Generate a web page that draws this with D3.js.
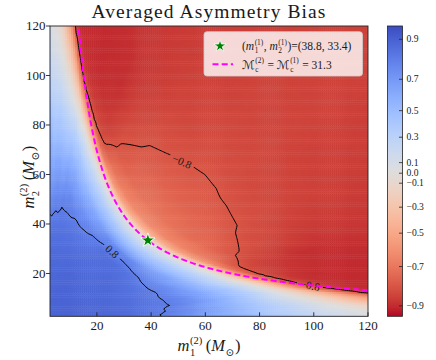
<!DOCTYPE html>
<html><head><meta charset="utf-8">
<script src="https://cdn.jsdelivr.net/npm/d3@7"></script>
<style>
body{margin:0;background:#fff}
text{font-family:"Liberation Serif","DejaVu Serif",serif;fill:#1a1a1a}
</style>
</head><body><svg id="c" width="436" height="360"></svg>
<script>
// ---------------- data ----------------
const massDomain = [2.7, 120];
const mcTarget = 31.3;                 // chirp mass of the reference event
const starPoint = [38.8, 33.4];        // (m1, m2) of the reference event
const xTicks = [20, 40, 60, 80, 100, 120];
const yTicks = [20, 40, 60, 80, 100, 120];
const cbTicks = [0.9, 0.7, 0.5, 0.3, 0.1, 0.0, -0.1, -0.3, -0.5, -0.7, -0.9];
// colour-norm of the colour bar (value -> fraction of bar height, from bottom)
const normValues    = [-0.953, -0.9, -0.7, -0.5, -0.3, -0.1, 0.0, 0.1, 0.3, 0.5, 0.7, 0.9, 0.9665];
const normFractions = [0, 0.0361, 0.1714, 0.2864, 0.3759, 0.4585, 0.4929, 0.5294, 0.6169, 0.7084, 0.8165, 0.9542, 1];
const contourLevels = [-0.8, 0.8];

// bias, tabulated against mass ratio q and Mc / Mc_ref (u)
const qGrid = [0.025, 0.0375, 0.05, 0.075, 0.1, 0.15, 0.2, 0.3, 0.4, 0.55, 0.7, 0.85, 1.0];
const uGrid = [0.08, 0.2, 0.3, 0.35, 0.4, 0.45, 0.5, 0.6, 0.7, 0.8, 0.9, 0.95, 1.0, 1.05, 1.1, 1.2, 1.4, 1.6, 1.8, 2.2, 2.8, 3.4];
const biasQ0250 = [0.9, 0.88, 0.8, 0.45, 0.12, -0.05, -0.15, -0.35, -0.55, -0.75, -0.88, -0.9, -0.9, -0.9, -0.9, -0.9, -0.9, -0.9, -0.9, -0.9, -0.9, -0.9];
const biasQ0375 = [0.9, 0.88, 0.75, 0.57, 0.32, 0.2, 0.08, -0.12, -0.35, -0.6, -0.85, -0.9, -0.9, -0.9, -0.9, -0.9, -0.9, -0.9, -0.9, -0.9, -0.9, -0.9];
const biasQ0500 = [0.9, 0.86, 0.72, 0.6, 0.48, 0.36, 0.25, 0.02, -0.25, -0.55, -0.82, -0.9, -0.9, -0.9, -0.9, -0.9, -0.9, -0.9, -0.9, -0.9, -0.9, -0.9];
const biasQ0750 = [0.9, 0.87, 0.79, 0.74, 0.68, 0.6, 0.5, 0.3, 0.02, -0.4, -0.75, -0.88, -0.9, -0.9, -0.9, -0.9, -0.9, -0.9, -0.9, -0.9, -0.9, -0.9];
const biasQ1000 = [0.89, 0.88, 0.84, 0.81, 0.77, 0.72, 0.65, 0.45, 0.22, -0.1, -0.6, -0.82, -0.9, -0.9, -0.9, -0.9, -0.9, -0.9, -0.9, -0.9, -0.9, -0.9];
const biasQ1500 = [0.89, 0.88, 0.86, 0.85, 0.83, 0.81, 0.78, 0.68, 0.5, 0.26, -0.2, -0.62, -0.84, -0.89, -0.9, -0.9, -0.9, -0.9, -0.9, -0.9, -0.9, -0.9];
const biasQ2000 = [0.89, 0.88, 0.87, 0.86, 0.85, 0.835, 0.815, 0.76, 0.63, 0.42, 0.08, -0.3, -0.7, -0.84, -0.88, -0.9, -0.9, -0.9, -0.9, -0.9, -0.9, -0.9];
const biasQ3000 = [0.89, 0.88, 0.88, 0.87, 0.865, 0.855, 0.845, 0.81, 0.72, 0.54, 0.26, 0.05, -0.4, -0.74, -0.82, -0.86, -0.89, -0.89, -0.88, -0.87, -0.87, -0.87];
const biasQ4000 = [0.89, 0.89, 0.88, 0.88, 0.875, 0.865, 0.855, 0.83, 0.77, 0.62, 0.34, 0.15, -0.15, -0.6, -0.72, -0.79, -0.83, -0.86, -0.87, -0.87, -0.87, -0.87];
const biasQ5500 = [0.89, 0.89, 0.885, 0.88, 0.88, 0.875, 0.87, 0.85, 0.81, 0.69, 0.4, 0.2, -0.05, -0.52, -0.66, -0.74, -0.79, -0.82, -0.84, -0.86, -0.86, -0.86];
const biasQ7000 = [0.89, 0.89, 0.885, 0.88, 0.88, 0.875, 0.87, 0.86, 0.84, 0.74, 0.42, 0.22, 0.0, -0.48, -0.64, -0.72, -0.77, -0.805, -0.83, -0.85, -0.86, -0.86];
const biasQ8500 = [0.89, 0.89, 0.885, 0.88, 0.88, 0.875, 0.87, 0.86, 0.85, 0.76, 0.42, 0.22, 0.0, -0.45, -0.63, -0.71, -0.76, -0.795, -0.82, -0.84, -0.85, -0.85];
const biasQ10000 = [0.89, 0.89, 0.885, 0.88, 0.88, 0.875, 0.87, 0.86, 0.85, 0.76, 0.42, 0.22, 0.0, -0.45, -0.63, -0.71, -0.76, -0.79, -0.82, -0.84, -0.85, -0.85];
const biasRows = [biasQ0250, biasQ0375, biasQ0500, biasQ0750, biasQ1000, biasQ1500, biasQ2000,
                  biasQ3000, biasQ4000, biasQ5500, biasQ7000, biasQ8500, biasQ10000];

// matplotlib "coolwarm" samples (33 stops)
const coolwarm = ["#3b4cc0","#445acc","#4d68d7","#5775e1","#6282ea","#6c8ef1","#779af7","#82a5fb","#8db0fe","#98b9ff","#a3c2ff","#aec9fd","#b8d0f9","#c2d5f4","#ccd9ee","#d5dbe6","#dddddd","#e5d8d1","#ecd3c5","#f1ccb8","#f5c4ac","#f7bb9f","#f7b193","#f7a686","#f49a7b","#f18d6f","#ec7f63","#e57058","#de604d","#d55042","#cb3e38","#c0282f","#b40426"];

// ---------------- helpers ----------------
function chirp(m1, m2) { return Math.pow(m1 * m2, 0.6) / Math.pow(m1 + m2, 0.2); }
function locate(grid, v) {
  if (v <= grid[0]) return [0, 0];
  if (v >= grid[grid.length - 1]) return [grid.length - 2, 1];
  const i = d3.bisectRight(grid, v) - 1;
  return [i, (v - grid[i]) / (grid[i + 1] - grid[i])];
}
function bias(m1, m2) {
  const ml = Math.max(m1, m2), ms = Math.min(m1, m2);
  const [qi, qt] = locate(qGrid, ms / ml);
  const [ui, ut] = locate(uGrid, chirp(m1, m2) / mcTarget);
  const r0 = biasRows[qi], r1 = biasRows[qi + 1];
  const a = r0[ui] * (1 - ut) + r0[ui + 1] * ut;
  const b = r1[ui] * (1 - ut) + r1[ui + 1] * ut;
  return a * (1 - qt) + b * qt;
}

// ---------------- scales ----------------
const L = 50, R = 368, T = 26, B = 316.3;
const x = d3.scaleLinear().domain(massDomain).range([L, R]);
const y = d3.scaleLinear().domain(massDomain).range([B, T]);
const norm = d3.scaleLinear().domain(normValues).range(normFractions).clamp(true);
const cw = d3.scaleLinear().domain(d3.range(coolwarm.length).map(i => i / (coolwarm.length - 1))).range(coolwarm).interpolate(d3.interpolateRgb);
const color = v => cw(1 - norm(v));

const svg = d3.select('#c');
const defs = svg.append('defs');
defs.append('clipPath').attr('id', 'clip').append('rect')
  .attr('x', L).attr('y', T).attr('width', R - L).attr('height', B - T);

// ---------------- heat map ----------------
const step = 0.75, g0 = 2.2;
const n = Math.ceil((121 - g0) / step);
const centers = d3.range(n).map(i => g0 + (i + 0.5) * step);
const values = new Array(n * n);
const cells = [];
for (let j = 0; j < n; j++) for (let i = 0; i < n; i++) {
  const v = bias(centers[i], centers[j]);
  values[i + j * n] = v;
  cells.push({ i, j, v });
}
const plot = svg.append('g').attr('clip-path', 'url(#clip)');
const cwid = x(g0 + step) - x(g0) + 0.45, chei = y(g0) - y(g0 + step) + 0.45;
plot.append('g').selectAll('rect').data(cells).join('rect')
  .attr('x', d => x(g0 + d.i * step)).attr('y', d => y(g0 + (d.j + 1) * step))
  .attr('width', cwid).attr('height', chei).attr('fill', d => color(d.v));

// ---------------- contours ----------------
const contours = d3.contours().size([n, n]).thresholds(contourLevels)(values);
const proj = d3.geoTransform({ point(px, py) { this.stream.point(x(g0 + px * step), y(g0 + py * step)); } });
const path = d3.geoPath(proj);

const labelSpecs = [
  { level: 0.8, text: '0.8', at: [24.9, 28.6] },
  { level: -0.8, text: '\u22120.8', at: [50, 61] },
  { level: -0.8, text: '\u22120.8', at: [98.7, 14.9] }
];
function placeLabel(spec) {
  const c = contours.find(c => c.value === spec.level);
  const tx = x(spec.at[0]), ty = y(spec.at[1]);
  let best = null;
  c.coordinates.forEach(poly => poly.forEach(ring => {
    const pts = ring.map(p => [x(g0 + p[0] * step), y(g0 + p[1] * step)]);
    pts.forEach((p, k) => {
      const d = (p[0] - tx) ** 2 + (p[1] - ty) ** 2;
      if (!best || d < best.d) best = { d, k, pts };
    });
  }));
  const pts = best.pts, m = pts.length;
  const a = pts[(best.k - 4 + m) % m], b = pts[(best.k + 4) % m];
  let ang = Math.atan2(b[1] - a[1], b[0] - a[0]) * 180 / Math.PI;
  if (ang > 90) ang -= 180; if (ang < -90) ang += 180;
  return { x: pts[best.k][0], y: pts[best.k][1], ang, text: spec.text };
}
const labels = labelSpecs.map(placeLabel);

const mask = defs.append('mask').attr('id', 'lblmask');
mask.append('rect').attr('x', 0).attr('y', 0).attr('width', 436).attr('height', 360).attr('fill', '#fff');
labels.forEach(l => {
  const w = l.text.length * 5.6 + 4;
  mask.append('rect').attr('x', -w / 2).attr('y', -5).attr('width', w).attr('height', 10)
    .attr('transform', `translate(${l.x},${l.y}) rotate(${l.ang})`).attr('fill', '#000');
});
plot.append('g').attr('mask', 'url(#lblmask)').selectAll('path').data(contours).join('path')
  .attr('d', path).attr('fill', 'none').attr('stroke', '#000').attr('stroke-width', 1);
plot.append('g').selectAll('text').data(labels).join('text')
  .attr('transform', d => `translate(${d.x},${d.y}) rotate(${d.ang})`)
  .attr('text-anchor', 'middle').attr('dy', '0.33em').attr('font-size', 11).attr('fill', '#222')
  .text(d => d.text);

// ---------------- equal chirp-mass curve ----------------
function solveM2(m1) {
  let lo = 0.5, hi = 400;
  for (let k = 0; k < 60; k++) { const mid = (lo + hi) / 2; if (chirp(m1, mid) < mcTarget) lo = mid; else hi = mid; }
  return (lo + hi) / 2;
}
const curve = d3.range(12.5, 121, 0.25).map(m1 => [m1, solveM2(m1)]);
plot.append('path').datum(curve)
  .attr('d', d3.line().x(d => x(d[0])).y(d => y(d[1])))
  .attr('fill', 'none').attr('stroke', '#ff00ff').attr('stroke-width', 2).attr('stroke-dasharray', '6,3.2');

// ---------------- star ----------------
plot.append('path').attr('d', d3.symbol().type(d3.symbolStar).size(62)())
  .attr('transform', `translate(${x(starPoint[0])},${y(starPoint[1])})`)
  .attr('fill', '#008000').attr('stroke', '#fff').attr('stroke-width', 0.9);

// ---------------- frame and axes ----------------
svg.append('rect').attr('x', L).attr('y', T).attr('width', R - L).attr('height', B - T)
  .attr('fill', 'none').attr('stroke', '#222').attr('stroke-width', 0.9);
const xt = svg.append('g');
xTicks.forEach(t => {
  xt.append('line').attr('x1', x(t)).attr('x2', x(t)).attr('y1', B).attr('y2', B - 4).attr('stroke', '#222').attr('stroke-width', 0.9);
  xt.append('text').attr('x', x(t)).attr('y', B + 13.5).attr('text-anchor', 'middle').attr('font-size', 13).text(t);
});
const yt = svg.append('g');
yTicks.forEach(t => {
  yt.append('line').attr('x1', L).attr('x2', L - 4).attr('y1', y(t)).attr('y2', y(t)).attr('stroke', '#222').attr('stroke-width', 0.9);
  yt.append('text').attr('x', L - 4.5).attr('y', y(t)).attr('dy', '0.34em').attr('text-anchor', 'end').attr('font-size', 13).text(t);
});

// math-ish text helper
function mathText(parent, parts, fs) {
  const g = parent.append('g');
  let cx = 0;
  parts.forEach(p => {
    if (p.t !== undefined) {
      const t = g.append('text').attr('x', cx).attr('y', 0).attr('font-size', p.fs || fs)
        .attr('font-style', p.i ? 'italic' : 'normal').style('white-space', 'pre').text(p.t);
      if (p.f) t.style('font-family', p.f);
      cx += t.node().getComputedTextLength();
    }
    if (p.sub !== undefined || p.sup !== undefined) {
      let w = 0;
      if (p.sup !== undefined) {
        const t = g.append('text').attr('x', cx + 0.5).attr('y', -fs * 0.45).attr('font-size', fs * 0.64).text(p.sup);
        w = Math.max(w, t.node().getComputedTextLength());
      }
      if (p.sub !== undefined) {
        const t = g.append('text').attr('x', cx + 0.5).attr('y', fs * 0.3).attr('font-size', fs * 0.64).text(p.sub);
        w = Math.max(w, t.node().getComputedTextLength());
      }
      cx += w + 1 + (p.gap || 0);
    }
  });
  return { g, width: cx };
}

// title
svg.append('text').attr('x', (L + R) / 2).attr('y', 18).attr('text-anchor', 'middle')
  .attr('font-size', 19.5).attr('letter-spacing', 1.1).text('Averaged Asymmetry Bias');

// x label
const xl = mathText(svg, [{ t: 'm', i: true }, { sub: '1', sup: '(2)', gap: 3 }, { t: '(' }, { t: 'M', i: true }, { sub: '\u2299' }, { t: ')' }], 16.5);
xl.g.attr('transform', `translate(${(L + R) / 2 - xl.width / 2},351)`);
// y label
const yl = mathText(svg, [{ t: 'm', i: true }, { sub: '2', sup: '(2)', gap: 3 }, { t: '(' }, { t: 'M', i: true }, { sub: '\u2299' }, { t: ')' }], 16.5);
yl.g.attr('transform', `translate(34,${(T + B) / 2 + 6 + yl.width / 2}) rotate(-90)`);

// ---------------- colour bar ----------------
const cbX = 387.5, cbW = 15;
const grad = defs.append('linearGradient').attr('id', 'cbgrad').attr('x1', 0).attr('y1', 0).attr('x2', 0).attr('y2', 1);
coolwarm.forEach((c, k) => grad.append('stop').attr('offset', k / (coolwarm.length - 1)).attr('stop-color', c));
svg.append('rect').attr('x', cbX).attr('y', T).attr('width', cbW).attr('height', B - T)
  .attr('fill', 'url(#cbgrad)').attr('stroke', '#222').attr('stroke-width', 0.8);
const cbY = d3.scaleLinear().domain([0, 1]).range([B, T]);
const fmt = v => (v < 0 ? '\u2212' : '') + Math.abs(v).toFixed(1);
cbTicks.forEach(v => {
  const yy = cbY(norm(v));
  svg.append('line').attr('x1', cbX + cbW).attr('x2', cbX + cbW - 3.5).attr('y1', yy).attr('y2', yy).attr('stroke', '#222').attr('stroke-width', 0.8);
  svg.append('text').attr('x', cbX + cbW + 4).attr('y', yy).attr('dy', '0.32em').attr('font-size', 9.6).text(fmt(v));
});

// ---------------- legend ----------------
const lg = svg.append('g');
lg.append('rect').attr('x', 204).attr('y', 31.7).attr('width', 158.5).attr('height', 44.3).attr('rx', 3)
  .attr('fill', '#fff').attr('fill-opacity', 0.8).attr('stroke', '#cccccc').attr('stroke-width', 0.8);
lg.append('path').attr('d', d3.symbol().type(d3.symbolStar).size(46)())
  .attr('transform', 'translate(220,46)').attr('fill', '#008000').attr('stroke', '#fff').attr('stroke-width', 0.8);
lg.append('line').attr('x1', 212.5).attr('x2', 233).attr('y1', 64.3).attr('y2', 64.3)
  .attr('stroke', '#ff00ff').attr('stroke-width', 2).attr('stroke-dasharray', '6,3.2');
const l1 = mathText(lg, [{ t: '(' }, { t: 'm', i: true }, { sub: '1', sup: '(1)' }, { t: ', ' }, { t: 'm', i: true }, { sub: '2', sup: '(1)' },
  { t: ')=(' + starPoint[0].toFixed(1) + ', ' + starPoint[1].toFixed(1) + ')' }], 11.5);
l1.g.attr('transform', 'translate(242,50)');
const scriptFont = '"DejaVu Sans","Noto Sans",serif';
const l2 = mathText(lg, [{ t: '\u2133', f: scriptFont, fs: 12 }, { sub: 'c', sup: '(2)', gap: 3 }, { t: '= ' },
  { t: '\u2133', f: scriptFont, fs: 12 }, { sub: 'c', sup: '(1)', gap: 3 }, { t: '= ' + mcTarget.toFixed(1) }], 11.5);
l2.g.attr('transform', 'translate(242,68.5)');
</script></body></html>
